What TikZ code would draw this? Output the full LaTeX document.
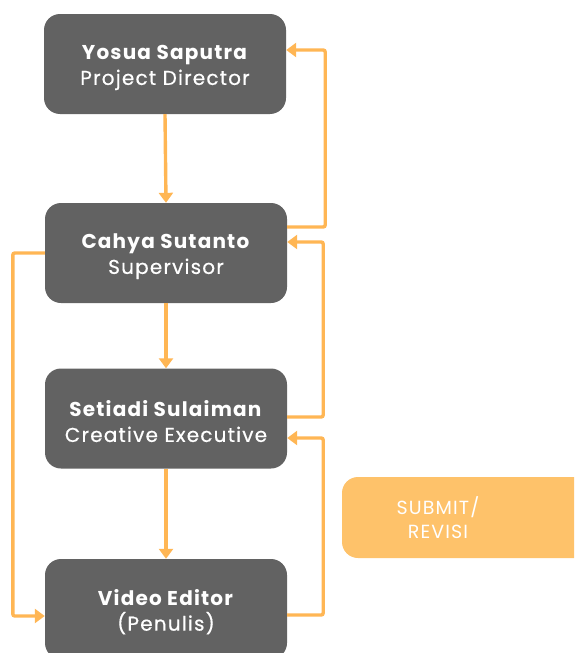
\documentclass[tikz,border=0pt]{standalone}
\usepackage{fontspec}
\setmainfont{Poppins}[LetterSpace=6]
\usetikzlibrary{arrows.meta}
\definecolor{boxgray}{HTML}{626262}
\definecolor{flowline}{HTML}{FFB654}
\definecolor{submitfill}{HTML}{FEC26A}
\newcommand{\rolename}[1]{\rule{0pt}{22pt}\textbf{#1}}
\newcommand{\roletitle}[1]{{\addfontfeature{FakeBold=0.6}#1}}

\tikzset{
  rolebox/.style={fill=boxgray,rounded corners=16pt,minimum width=242pt,
    minimum height=100pt,align=center,text=white,
    font=\fontsize{20}{25}\selectfont},
  flow/.style={flowline,line width=3.4pt,-{Triangle[width=14pt,length=10pt]}},
}

\begin{document}
\begin{tikzpicture}[x=1pt,y=-1pt]
  \useasboundingbox (0,0) rectangle (574,653);
  \clip (0,0) rectangle (574,653);
  % role boxes
  \node[rolebox] (yosua) at (165,64) {\rolename{Yosua Saputra}\\\roletitle{Project Director}};
  \node[rolebox] (cahya) at (166,253) {\rolename{Cahya Sutanto}\\\roletitle{Supervisor}};
  \node[rolebox] (setiadi) at (166,418.5) {\rolename{Setiadi Sulaiman}\\\roletitle{Creative Executive}};
  \node[rolebox] (editor) at (166,609) {\rolename{Video Editor}\\\roletitle{(Penulis)}};
  % submit / revisi tag
  \fill[submitfill,rounded corners=16pt] (342,477) rectangle (620,558);
  \node[text=white,align=center,font=\fontsize{19}{24}\selectfont] (submit) at (438,518) {SUBMIT/\\REVISI};
  % downward flow
  \draw[flow] (yosua.south) -- (cahya.north);
  \draw[flow] (cahya.south) -- (setiadi.north);
  \draw[flow] (setiadi.south) -- (editor.north);
  % revisions back up
  \draw[flow,rounded corners=2pt] ([yshift=26pt]cahya.east) -- ++(38,0) |- ([yshift=14pt]yosua.east);
  \draw[flow,rounded corners=2pt] ([yshift=1.5pt]setiadi.east) -- ++(36,0) |- ([yshift=11pt]cahya.east);
  \draw[flow,rounded corners=2pt] ([yshift=-6pt]editor.east) -- ++(36,0) |- ([yshift=-19.5pt]setiadi.east);
  % supervisor straight to editor
  \draw[flow,rounded corners=2pt] (cahya.west) -- ++(-32,0) |- ([yshift=-7pt]editor.west);
\end{tikzpicture}
\end{document}
